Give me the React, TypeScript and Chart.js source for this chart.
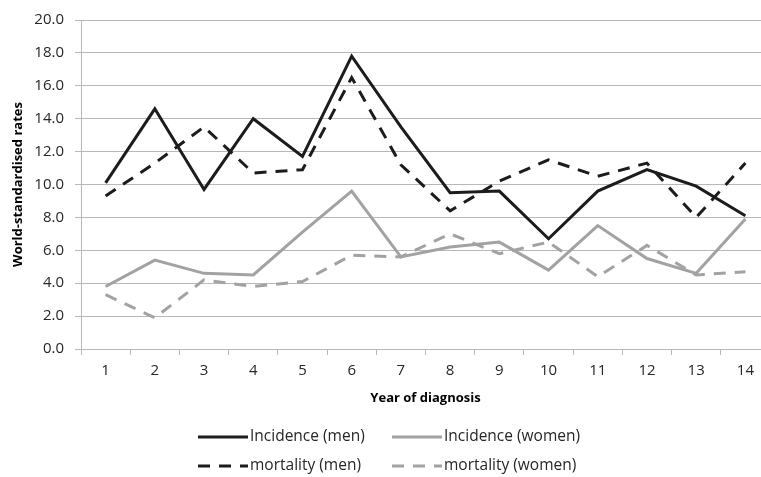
import React, { useEffect, useRef } from "react";
import { Chart, registerables } from "chart.js";

Chart.register(...registerables);

const years = ["1", "2", "3", "4", "5", "6", "7", "8", "9", "10", "11", "12", "13", "14"];
const incidenceMen = [10.1, 14.6, 9.7, 14.0, 11.7, 17.8, 13.5, 9.5, 9.6, 6.7, 9.6, 10.9, 9.9, 8.1];
const incidenceWomen = [3.8, 5.4, 4.6, 4.5, 7.1, 9.6, 5.6, 6.2, 6.5, 4.8, 7.5, 5.5, 4.6, 7.9];
const mortalityMen = [9.3, 11.3, 13.5, 10.7, 10.9, 16.5, 11.2, 8.4, 10.2, 11.5, 10.5, 11.3, 8.0, 11.3];
const mortalityWomen = [3.3, 1.9, 4.2, 3.8, 4.1, 5.7, 5.6, 7.0, 5.8, 6.5, 4.4, 6.3, 4.5, 4.7];
const seriesLabels = ["Incidence (men)", "Incidence (women)", "mortality (men)", "mortality (women)"];
const yTitle = "World-standardised rates";
const xTitle = "Year of diagnosis";

const BLACK = "#1c1c1c";
const GREY = "#a2a2a2";
const GRID = "#b8b8b8";
const TEXT = "#262626";
const FONT = "'Open Sans', 'DejaVu Sans', sans-serif";
const DASH = [12, 9];

const legendPlugin = {
  id: "gridLegend",
  afterDraw(chart: any) {
    const ctx = chart.ctx;
    const ds = chart.data.datasets;
    const cols = [198, 392];
    const rows = [437, 466];
    ctx.save();
    ds.forEach((d: any, i: number) => {
      const x = cols[i % 2];
      const y = rows[Math.floor(i / 2)];
      ctx.beginPath();
      ctx.strokeStyle = d.borderColor;
      ctx.lineWidth = 3;
      ctx.lineCap = "butt";
      ctx.setLineDash(d.borderDash || []);
      ctx.moveTo(x, y);
      ctx.lineTo(x + 50, y);
      ctx.stroke();
      ctx.setLineDash([]);
      ctx.fillStyle = TEXT;
      ctx.font = `15.5px ${FONT}`;
      ctx.textBaseline = "middle";
      ctx.textAlign = "left";
      ctx.fillText(d.label, x + 52, y);
    });
    ctx.restore();
  },
};

export default function App() {
  const ref = useRef<HTMLCanvasElement | null>(null);
  useEffect(() => {
    if (!ref.current) return;
    const mk = (label: string, data: number[], color: string, dash: number[] | undefined, order: number) => ({
      label,
      data,
      borderColor: color,
      backgroundColor: color,
      borderWidth: 3,
      borderDash: dash,
      pointRadius: 0,
      tension: 0,
      fill: false,
      order,
    });
    const chart = new Chart(ref.current, {
      type: "line",
      data: {
        labels: years,
        datasets: [
          mk(seriesLabels[0], incidenceMen, BLACK, undefined, 4),
          mk(seriesLabels[1], incidenceWomen, GREY, undefined, 3),
          mk(seriesLabels[2], mortalityMen, BLACK, DASH, 2),
          mk(seriesLabels[3], mortalityWomen, GREY, DASH, 1),
        ],
      },
      options: {
        responsive: false,
        animation: false,
        devicePixelRatio: 1,
        layout: { padding: { top: 20, right: 10, bottom: 67, left: 0 } },
        plugins: {
          legend: { display: false },
          tooltip: { enabled: false },
        },
        scales: {
          x: {
            offset: true,
            grid: { offset: true, drawOnChartArea: false, drawTicks: true, tickLength: 6, color: GRID },
            border: { color: GRID, width: 1 },
            ticks: { color: TEXT, font: { family: FONT, size: 15 }, padding: 7, maxRotation: 0 },
            title: {
              display: true,
              text: xTitle,
              color: "#000",
              font: { family: FONT, size: 13, weight: "bold" },
              padding: { top: 0, bottom: 4 },
            },
            afterFit: (s: any) => {
              s.height = 61;
            },
          },
          y: {
            min: 0,
            max: 20,
            ticks: {
              stepSize: 2,
              color: TEXT,
              font: { family: FONT, size: 15 },
              padding: 11,
              callback: (v: any) => Number(v).toFixed(1),
            },
            grid: { color: GRID, lineWidth: 1, drawTicks: true, tickLength: 6 },
            border: { color: GRID, width: 1 },
            title: {
              display: true,
              text: yTitle,
              color: "#000",
              font: { family: FONT, size: 13, weight: "bold" },
              padding: { top: 10, bottom: 0 },
            },
            afterFit: (s: any) => {
              s.width = 81;
            },
          },
        },
      },
      plugins: [legendPlugin],
    });
    return () => chart.destroy();
  }, []);
  return (
    <div style={{ position: "fixed", left: 0, top: 0, width: 761, height: 477, overflow: "hidden", background: "#fff" }}>
      <canvas ref={ref} width={780} height={477} style={{ display: "block", width: 780, height: 477 }} />
    </div>
  );
}
